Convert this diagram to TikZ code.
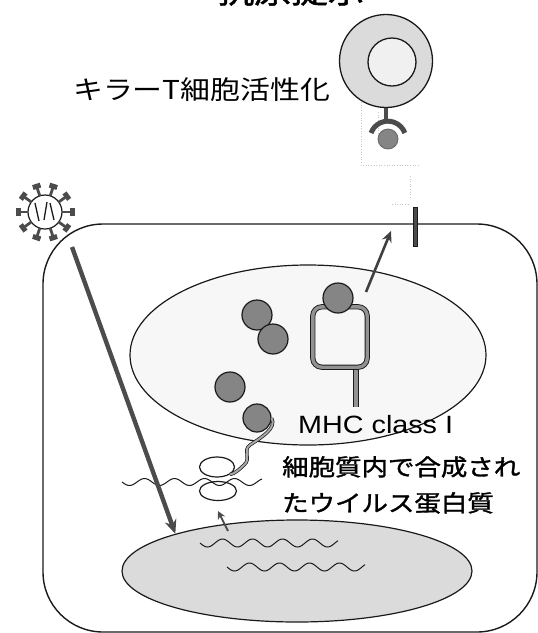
\documentclass[tikz,border=0pt]{standalone}
\usepackage{fontspec}
\usepackage{tikz}
\usetikzlibrary{arrows.meta,shapes.geometric}
\newfontfamily\jpfont[FakeStretch=1.15]{Noto Sans CJK JP}
\newfontfamily\jpboldfont[FakeStretch=1.15,FakeBold=1.5]{Noto Sans CJK JP}
\newfontfamily\labelfont[FakeStretch=1.15]{Liberation Sans}
\definecolor{CellInk}{HTML}{1A1A1A}
\definecolor{ProteinGray}{HTML}{858585}
\definecolor{TubeGray}{HTML}{6E6E6E}
\tikzset{
  >={Stealth[length=14pt,width=12pt]},
  membrane/.style={draw=CellInk,line width=1.4pt},
  organelle/.style={ellipse,draw=CellInk,line width=1.2pt,inner sep=0pt},
  protein/.style={circle,draw=CellInk,fill=ProteinGray,line width=1.2pt,
    minimum size=30pt,inner sep=0pt},
  tube/.style={draw=CellInk,double=TubeGray!75,line width=.9pt,double distance=3.4pt},
  peptide/.style={draw=CellInk,double=TubeGray!60,line width=.7pt,double distance=2pt},
  rna/.style={draw=CellInk,line width=1pt,smooth},
  flow/.style={->,draw=black!70,line width=4.4pt},
  spike/.style={draw=black!70,line width=2.8pt},
  faint/.style={draw=gray!45,dotted,line width=.6pt},
  jptext/.style={font=\jpfont\fontsize{26}{30}\selectfont,inner sep=0pt},
  jpbold/.style={font=\jpboldfont\fontsize{23}{36}\selectfont,inner sep=0pt,align=left},
  mhctext/.style={font=\labelfont\fontsize{25}{28}\selectfont,inner sep=0pt}
}
\begin{document}
\begin{tikzpicture}[x=1pt,y=-1pt]
  \useasboundingbox (0,0) rectangle (538,633);
  \node[font=\jpboldfont\fontsize{32}{36}\selectfont,anchor=base] (title) at (291,3) {抗原提示};
  \node[jptext,anchor=base west] (killer) at (73,99) {キラーT細胞活性化};

  % killer T cell with its receptor
  \draw[faint] (361,97) -- (361,165) -- (420,165);
  \draw[faint] (378,112) -- (378,140);
  \draw[faint] (410,176) -- (410,198) (392,204) -- (408,204);
  \node[circle,draw=CellInk,line width=1.3pt,fill=gray!28,minimum size=93pt] (tcell) at (386,61) {};
  \node[circle,draw=CellInk,line width=1.3pt,fill=gray!12,minimum size=48pt] (tnucleus) at (392,62) {};
  \draw[draw=black!70,line width=4pt] (tcell.south) -- ++(0,14);
  \draw[draw=black!70,line width=5pt] (371,133) arc[start angle=200,end angle=340,radius=18];
  \node[circle,fill=ProteinGray,draw=black!60,line width=.8pt,minimum size=20pt,inner sep=0pt] (antigen) at (388,139) {};

  % infected cell
  \node[membrane,rounded corners=60pt,minimum width=494pt,minimum height=408pt] (cell) at (290,428) {};
  \node[fill=black!70,draw=CellInk,minimum width=4pt,minimum height=39pt,inner sep=0pt] (surface) at (415,227) {};
  \node[organelle,fill=gray!6,minimum width=356pt,minimum height=180pt] (er) at (308,355) {};
  \node[organelle,fill=gray!28,minimum width=350pt,minimum height=102pt] (nucleus) at (297,571) {};

  % virus
  \node[circle,draw=CellInk,line width=1.2pt,fill=white,minimum size=34pt] (virus) at (45,212) {};
  \foreach \a in {0,36,...,324} {
    \draw[spike] (virus) ++(\a:17) -- ++(\a:9);
    \draw[draw=black!70,line width=5pt] (virus) ++(\a:27) ++(\a+90:4) -- ++(\a-90:8);
  }
  \draw[draw=CellInk,line width=1.3pt] (35,203) -- (39,221) (44,220) -- (47,202) (50,203) -- (54,220);

  % peptides and MHC class I
  \node[protein] (pairA) at (257,315) {};
  \node[protein] (pairB) at (273,339) {};
  \node[protein] (free) at (230,387) {};
  \node[protein,minimum size=28pt] (nascent) at (257,418) {};
  \coordinate (stemfoot) at (356,407);
  \node[draw=none,minimum width=54pt,minimum height=60pt] (mhc) at (340,337) {};
  \draw[tube] (stemfoot) -- (stemfoot |- mhc.south);
  \draw[tube,rounded corners=9pt] (mhc.south west) rectangle (mhc.north east);
  \node[protein] (loaded) at (338,298) {};
  \coordinate (mhcout) at (366,292);
  \coordinate (exit) at (391,231);
  \draw[->,draw=black!75,line width=2.6pt,>={Stealth[length=11pt,width=10pt]}] (mhcout) -- (exit);
  \node[mhctext,anchor=base west] (mhclabel) at (298,433) {MHC class I};

  % ribosome on the mRNA
  \draw[rna] plot[domain=0:140,samples=90] ({122+\x},{482+3.5*sin(12*\x)});
  \node[organelle,minimum width=35pt,minimum height=20pt] (riboA) at (217,467) {};
  \node[organelle,minimum width=37pt,minimum height=19pt] (riboB) at (218,491) {};
  \draw[peptide] (nascent.east) .. controls (277,428) and (262,437) .. (250,445)
    .. controls (242,451) and (252,458) .. (244,465) .. controls (239,470) and (234,474) .. (riboA.south east);
  \node[jpbold,anchor=north west] (protlabel) at (282,456) {細胞質内で合成され\\たウイルス蛋白質};

  % viral RNA in the nucleus
  \draw[rna] plot[domain=0:138,samples=90] ({200+\x},{543+4*sin(12*\x)});
  \draw[rna] plot[domain=0:138,samples=90] ({227+\x},{567+4*sin(12*\x)});
  \coordinate (entry) at (72,247);
  \draw[flow] (entry) -- (nucleus.163);
  \coordinate (export) at (228,531);
  \coordinate (import) at (218,511);
  \draw[->,draw=black!70,line width=1.8pt,>={Stealth[length=8pt,width=8pt]}] (export) -- (import);
\end{tikzpicture}
\end{document}
